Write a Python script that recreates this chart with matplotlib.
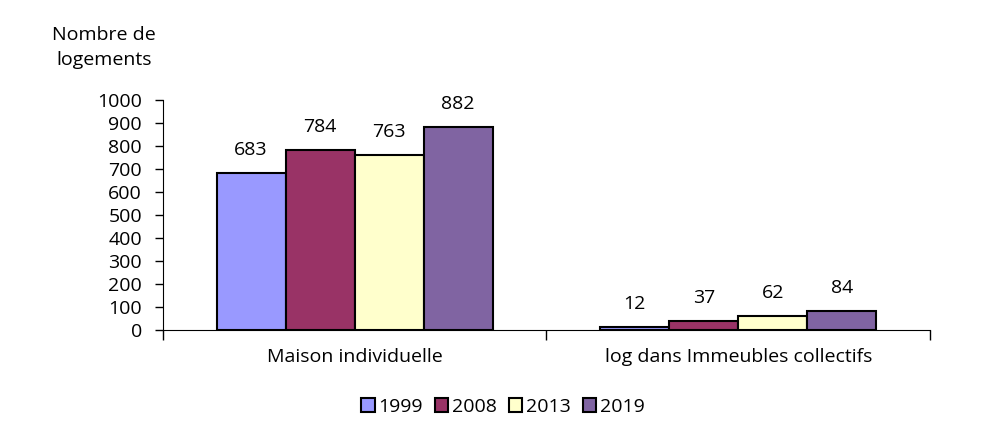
import numpy as np
import matplotlib.pyplot as plt
from matplotlib.patches import Patch

categories = ['Maison individuelle', 'log dans Immeubles collectifs']
years = ['1999', '2008', '2013', '2019']
values = {
    '1999': [683, 12],
    '2008': [784, 37],
    '2013': [763, 62],
    '2019': [882, 84],
}
colors = ['#9999FF', '#993366', '#FFFFCC', '#8064A2']
yticks = list(range(0, 1001, 100))

plt.rcParams['font.family'] = ['Open Sans', 'DejaVu Sans']
fs = 14

fig = plt.figure(figsize=(9.93, 4.3), dpi=100)
ax = fig.add_axes([0.164, 0.2326, 0.7726, 0.5348])

width = 0.18
x = np.arange(len(categories))
for i, (yr, col) in enumerate(zip(years, colors)):
    pos = x + (i - 1.5) * width
    bars = ax.bar(pos, values[yr], width, color=col, edgecolor='black',
                  linewidth=1.5, label=yr, zorder=3)
    for b, v in zip(bars, values[yr]):
        ax.text(b.get_x() + b.get_width() / 2, v + 100, str(v),
                ha='center', va='center', fontsize=fs)

ax.set_xlim(-0.5, 1.5)
ax.set_ylim(0, 1000)
ax.set_yticks(yticks)
ax.set_yticklabels([str(t) for t in yticks], fontsize=fs)
ax.set_xticks([-0.5, 0.5, 1.5])
ax.set_xticklabels([])
ax.tick_params(axis='x', length=7, width=1, color='black', direction='out')
ax.tick_params(axis='y', length=6, width=1, direction='out', pad=9)
for i, c in enumerate(categories):
    ax.text(i, -118, c, ha='center', va='center', fontsize=fs)

for s in ['top', 'right']:
    ax.spines[s].set_visible(False)
ax.spines['left'].set_color('black')
ax.spines['bottom'].set_color('black')

fig.text(104 / 993, 1 - 35 / 430, 'Nombre de', ha='center', va='center', fontsize=fs)
fig.text(104 / 993, 1 - 60 / 430, 'logements', ha='center', va='center', fontsize=fs)

handles = [Patch(facecolor=c, edgecolor='black', linewidth=1.5, label=y)
           for y, c in zip(years, colors)]
fig.legend(handles=handles, loc='center', bbox_to_anchor=(503 / 993, 1 - 407 / 430),
           ncol=4, frameon=False, fontsize=fs, handlelength=0.7, handleheight=0.7,
           handletextpad=0.2, columnspacing=0.6)

fig.savefig('out.png', dpi=100)
